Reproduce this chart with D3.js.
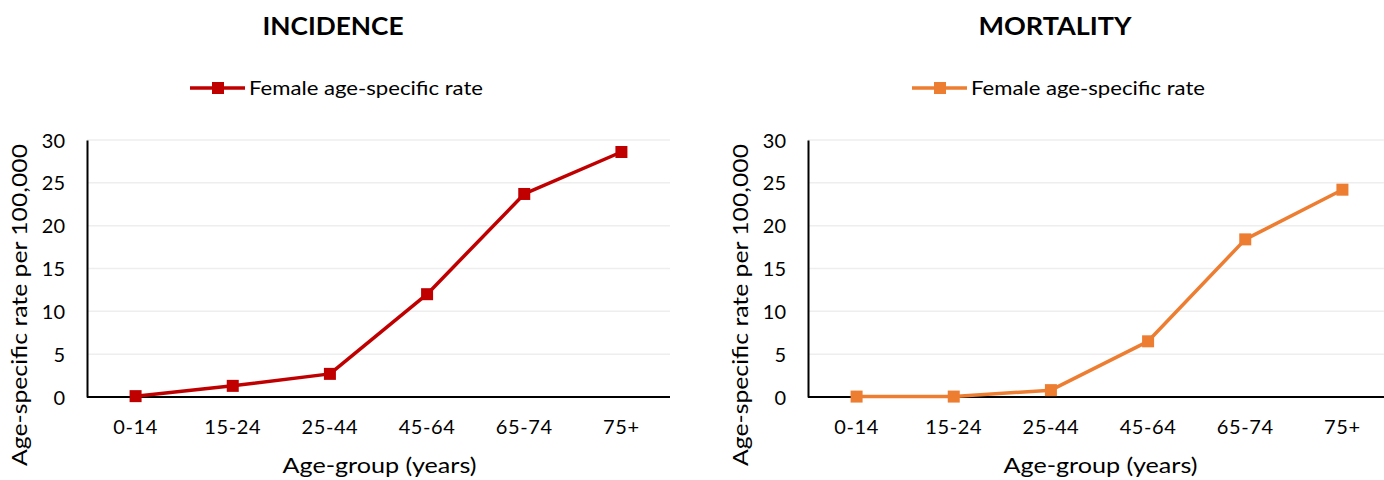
<!DOCTYPE html>
<html><head><meta charset="utf-8">
<script src="https://cdn.jsdelivr.net/npm/d3@7"></script>
<style>body{margin:0;background:#fff}svg{display:block}text{font-family:Lato,"Open Sans",sans-serif;fill:#000}</style>
</head><body>
<svg id="c" width="1384" height="480"></svg>
<script>
const categories = ["0-14","15-24","25-44","45-64","65-74","75+"];
const incidence = [0.1,1.3,2.7,12.0,23.7,28.6];
const mortality = [0.05,0.05,0.8,6.5,18.4,24.2];
const yTicks = [0,5,10,15,20,25,30];
const titles = ["INCIDENCE","MORTALITY"];
const legendLabel = "Female age-specific rate";
const yTitle = "Age-specific rate per 100,000";
const xTitle = "Age-group (years)";
const colors = ["#C00000","#ED7D31"];

const panels = [
  {x0:87, x1:670, titleX:333, titleW:141, legX:190, series:incidence},
  {x0:808, x1:1391, titleX:1055, titleW:153, legX:912, series:mortality}
];
const yTop = 140, yBot = 397;
const svg = d3.select("#c");

panels.forEach((p,i)=>{
  const g = svg.append("g");
  const x = d3.scaleBand().domain(categories).range([p.x0,p.x1]);
  const y = d3.scaleLinear().domain([0,30]).range([yBot,yTop]);
  // grid
  g.selectAll(".grid").data(yTicks.filter(t=>t>0)).enter().append("line")
    .attr("x1",p.x0).attr("x2",p.x1).attr("y1",d=>y(d)).attr("y2",d=>y(d))
    .attr("stroke","#eeeeee").attr("stroke-width",1.5);
  // y axis
  const ya = g.append("g").attr("transform",`translate(${p.x0},0)`)
    .call(d3.axisLeft(y).tickValues(yTicks).tickSize(0).tickPadding(22));
  ya.select(".domain").attr("stroke","#000").attr("stroke-width",2);
  ya.selectAll("text").style("font-size","20px").attr("dy","0.35em");
  // x axis
  const xa = g.append("g").attr("transform",`translate(0,${yBot})`)
    .call(d3.axisBottom(x).tickSize(0).tickPadding(23));
  xa.select(".domain").attr("stroke","#000").attr("stroke-width",2).attr("d",`M${p.x0},0H${p.x1}`);
  xa.selectAll("text").style("font-size","20px").attr("letter-spacing","0.6px");
  // line
  const line = d3.line().x((d,j)=>x(categories[j])+x.bandwidth()/2).y(d=>y(d));
  g.append("path").datum(p.series).attr("d",line).attr("fill","none")
    .attr("stroke",colors[i]).attr("stroke-width",3.5).attr("stroke-linejoin","round");
  g.selectAll(".m").data(p.series).enter().append("rect")
    .attr("x",(d,j)=>x(categories[j])+x.bandwidth()/2-6)
    .attr("y",d=>y(d)-6).attr("width",12).attr("height",12).attr("fill",colors[i]);
  // title
  g.append("text").attr("x",p.titleX).attr("y",35).attr("text-anchor","middle")
    .attr("textLength",p.titleW).attr("lengthAdjust","spacingAndGlyphs")
    .style("font-size","24px").style("font-weight","bold").text(titles[i]);
  // legend
  g.append("line").attr("x1",p.legX).attr("x2",p.legX+55).attr("y1",88).attr("y2",88)
    .attr("stroke",colors[i]).attr("stroke-width",3.5);
  g.append("rect").attr("x",p.legX+22).attr("y",82).attr("width",12).attr("height",12).attr("fill",colors[i]);
  g.append("text").attr("x",p.legX+59).attr("y",95).style("font-size","20px")
    .attr("textLength",234).attr("lengthAdjust","spacingAndGlyphs").text(legendLabel);
  // axis titles
  g.append("text").attr("transform",`translate(${p.x0-60},${305}) rotate(-90)`)
    .attr("text-anchor","middle").style("font-size","22px")
    .attr("textLength",322).attr("lengthAdjust","spacingAndGlyphs").text(yTitle);
  g.append("text").attr("x",(p.x0+p.x1)/2+1).attr("y",473).attr("text-anchor","middle")
    .style("font-size","22px").attr("textLength",194).attr("lengthAdjust","spacingAndGlyphs").text(xTitle);
});
</script>
</body></html>
